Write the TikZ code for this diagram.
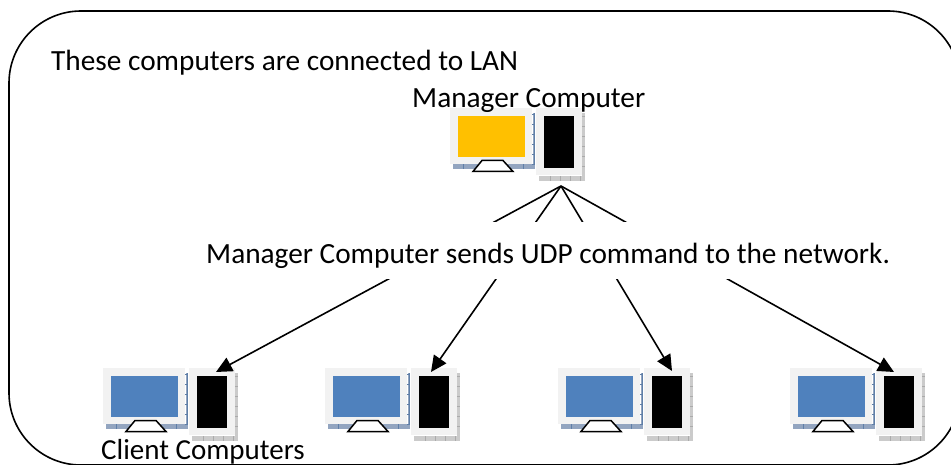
\documentclass[tikz,border=0pt]{standalone}
\usepackage{fontspec}
\setmainfont{Carlito}
\usetikzlibrary{arrows.meta}
\definecolor{faceC}{HTML}{F2F2F2}
\definecolor{mgrC}{HTML}{FFC000}
\definecolor{cliC}{HTML}{4F81BD}
\definecolor{shB}{HTML}{93A5C0}
\definecolor{shBd}{HTML}{5F7FA8}
\definecolor{shG}{HTML}{CBCBCB}
\definecolor{shGd}{HTML}{ABABAB}
\tikzset{
  x=1pt,y=-1pt,
  lbl/.style={font=\fontsize{29.3pt}{32pt}\selectfont,text=black,inner sep=0pt,anchor=base west},
  frame/.style={draw=black,line width=1.6pt,rounded corners=72pt},
  conn/.style={draw=black,line width=1.6pt},
  arr/.style={conn,-{Triangle[length=16pt,width=15pt]}},
  pics/computer/.style={code={
    % monitor shadow
    \fill[shB] (3,56) rectangle (85,61);
    \fill[shB] (83,5) rectangle (85,61);
    \foreach \k in {0,1,2,3}{\draw[shBd,line width=.5pt] (13+\k*20,56) -- ++(0,5);}
    \foreach \k in {0,1,2,3,4,5}{\draw[shBd,line width=.8pt] (82,6+\k*10) -- ++(3,0);}
    \draw[shBd,line width=1pt] (84.5,5) -- (84.5,56);
    % monitor
    \fill[faceC] (0,0) rectangle (82,56);
    \fill[#1] (8,8) rectangle (75,49);
    \draw[black,line width=1.5pt,fill=white] (23,63.5) -- (32,52.5) -- (53,52.5) -- (63,63.5) -- cycle;
    % tower shadow
    \fill[shG] (89,68) rectangle (135,73);
    \fill[shG] (132,5) rectangle (135,73);
    \foreach \k in {0,1,2,3}{\draw[shGd,line width=.5pt] (100+\k*10,68) -- ++(0,5);}
    \foreach \k in {0,1,2,3,4,5}{\draw[shGd,line width=.5pt] (132,8+\k*10) -- ++(3,0);}
    % tower
    \fill[faceC] (86,0) rectangle (132,67);
    \fill[black] (94,8) rectangle (124,60);
  }}
}
\begin{document}
\begin{tikzpicture}
\useasboundingbox (0,0) rectangle (951,465);
\begin{scope}
\clip (0,0) rectangle (951,465);
\draw[frame] (9,11) rectangle (960,465);
\end{scope}

\pic at (450,108) {computer=mgrC};
\pic at (103,368) {computer=cliC};
\pic at (325,368) {computer=cliC};
\pic at (558,368) {computer=cliC};
\pic at (790,368) {computer=cliC};

\coordinate (hub) at (561,186);
\coordinate (c1) at (216,372);
\coordinate (c2) at (431,372);
\coordinate (c3) at (672,371);
\coordinate (c4) at (894,372);
\draw[arr] (hub) -- (c1);
\draw[arr] (hub) -- (c2);
\draw[arr] (hub) -- (c3);
\draw[arr] (hub) -- (c4);

\fill[white] (195,222) rectangle (900,279);
\node[lbl] (t0) at (51,70.5) {These computers are connected to LAN};
\node[lbl] (t1) at (412,107.5) {Manager Computer};
\node[lbl] (t2) at (206,263.5) {Manager Computer sends UDP command to the network.};
\node[lbl,font=\fontsize{29pt}{32pt}\selectfont] (t3) at (101,459.5) {Client Computers};
\end{tikzpicture}
\end{document}
